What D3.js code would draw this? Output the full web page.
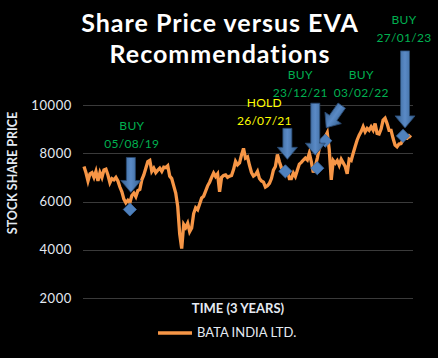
<!DOCTYPE html>
<html>
<head>
<meta charset="utf-8">
<script src="https://cdn.jsdelivr.net/npm/d3@7"></script>
<style>
  body { margin: 0; background: #000; }
  text { font-family: Lato, "Open Sans", sans-serif; }
</style>
</head>
<body>
<div id="chart"></div>
<script>
// Bata India Ltd. share price, sampled along the 3-year time axis
const prices = [
  7450, 7190, 6850, 7150, 7200, 7000, 7250, 6850, 7200, 7000,
  7310, 7340, 7100, 6780, 6950, 6900, 7000, 6850, 6600, 6400,
  6100, 5950, 6050, 5950, 6250, 6350, 6200, 6450, 6500, 6900,
  7100, 7380, 7650, 7700, 7250, 7380, 7200, 7300, 7380, 7250,
  7420, 7400, 7480, 7050, 6950, 6650, 6350, 5800, 4650, 4050,
  5050, 4920, 5100, 4750, 4900, 5500, 5740, 5660, 5900, 6150,
  6220, 6430, 6650, 6800, 7000, 7180, 7040, 7150, 6400, 7000,
  7080, 7100, 7000, 7050, 7080, 7320, 7660, 7520, 7600, 7930,
  8200, 7800, 7850, 7500, 7200, 7050, 7110, 7250, 6950, 6850,
  6800, 6600, 6650, 6750, 6950, 7300, 7450, 7950, 7650, 7400,
  7320, 7380, 7300, 6950, 6950, 7180, 7040, 7300, 7550, 7620,
  7720, 7800, 7720, 8000, 7650, 7200, 7450, 7800, 8200, 8350,
  8600, 8680, 8850, 8150, 6900, 7700, 7590, 7700, 7500, 7750,
  7600, 7450, 7150, 7750, 7700, 8000, 8280, 8550, 8750, 8900,
  9100, 8890, 9030, 8950, 9100, 8960, 9230, 8820, 8800, 9000,
  9370, 9450, 9230, 8950, 8950, 8620, 8340, 8270, 8380, 8400,
  8550, 8620, 8620, 8720, 8650
];
const yTicks = [2000, 4000, 6000, 8000, 10000];

// EVA recommendations
const recIndex = [23, 101, 117, 121, 160];
const recPrice = [5670, 7250, 7380, 8520, 8720];
const recAction = ["BUY", "HOLD", "BUY", "BUY", "BUY"];
const recDate = ["05/08/19", "26/07/21", "23/12/21", "03/02/22", "27/01/23"];

// arrow + label placement relative to each marker
const arrowLayout = [
  { tipDx: 1, tipDy: -17, len: 35, angle: 0, labDx: 2, labDy: -61 },
  { tipDx: 2, tipDy: -12, len: 31, angle: 0, labDx: -21, labDy: -46 },
  { tipDx: -2, tipDy: -13, len: 52, angle: 0, labDx: -17, labDy: -71 },
  { tipDx: 1, tipDy: -13, len: 27, angle: 35, labDx: 36, labDy: -44 },
  { tipDx: 2, tipDy: -8, len: 77, angle: 0, labDx: 1, labDy: -94 }
];

const W = 438, H = 358;
const plot = { left: 83, right: 413, top: 105, bottom: 298 };

const svg = d3.select("#chart")
  .append("svg")
  .attr("width", W)
  .attr("height", H)
  .style("background", "#000");

const x = d3.scaleLinear()
  .domain([0, prices.length - 1])
  .range([plot.left + 1, plot.right - 2]);

const y = d3.scaleLinear()
  .domain([2000, 10000])
  .range([plot.bottom, plot.top]);

// gridlines
svg.append("g")
  .selectAll("line")
  .data(yTicks)
  .enter()
  .append("line")
  .attr("x1", plot.left)
  .attr("x2", plot.right)
  .attr("y1", d => Math.round(y(d)) + 0.5)
  .attr("y2", d => Math.round(y(d)) + 0.5)
  .attr("stroke", "#3a3a3a")
  .attr("stroke-width", 1);

// y axis labels
const yAxis = svg.append("g")
  .attr("transform", `translate(${plot.left}, 0)`)
  .call(d3.axisLeft(y).tickValues(yTicks).tickSize(0).tickPadding(11).tickFormat(d3.format("d")));
yAxis.select(".domain").remove();
yAxis.selectAll("text")
  .attr("fill", "#e4eaf2")
  .style("font-family", "Lato, sans-serif")
  .style("font-size", "13px")
  .style("letter-spacing", "0.6px");

// title
const title = svg.append("text")
  .attr("text-anchor", "middle")
  .attr("fill", "#fff")
  .style("font-size", "25px")
  .style("font-weight", "bold")
  .style("letter-spacing", "1px");
title.append("tspan").attr("x", 220).attr("y", 32).text("Share Price versus EVA");
title.append("tspan").attr("x", 220).attr("y", 63).text("Recommendations");

// axis titles
svg.append("text")
  .attr("transform", "translate(17, 173) rotate(-90)")
  .attr("text-anchor", "middle")
  .attr("fill", "#e4eaf2")
  .style("font-size", "12.5px")
  .style("font-weight", "bold")
  .text("STOCK SHARE PRICE");

svg.append("text")
  .attr("x", 238)
  .attr("y", 313)
  .attr("text-anchor", "middle")
  .attr("fill", "#e4eaf2")
  .style("font-size", "13px")
  .style("font-weight", "bold")
  .text("TIME (3 YEARS)");

// price line
const line = d3.line()
  .x((d, i) => x(i))
  .y(d => y(d));

svg.append("path")
  .datum(prices)
  .attr("fill", "none")
  .attr("stroke", "#f79646")
  .attr("stroke-width", 3.3)
  .attr("stroke-linejoin", "miter")
  .attr("d", line);

// legend
svg.append("line")
  .attr("x1", 158).attr("x2", 192)
  .attr("y1", 333).attr("y2", 333)
  .attr("stroke", "#f79646")
  .attr("stroke-width", 3.3);
svg.append("text")
  .attr("x", 197)
  .attr("y", 337)
  .attr("fill", "#e4eaf2")
  .style("font-size", "13px")
  .text("BATA INDIA LTD.");

// arrow gradient
const defs = svg.append("defs");
const grad = defs.append("linearGradient")
  .attr("id", "arrowGrad")
  .attr("x1", "0%").attr("x2", "100%")
  .attr("y1", "0%").attr("y2", "0%");
grad.append("stop").attr("offset", "0%").attr("stop-color", "#35608f");
grad.append("stop").attr("offset", "50%").attr("stop-color", "#5a8ac6");
grad.append("stop").attr("offset", "100%").attr("stop-color", "#35608f");

function arrowPath(len) {
  const sw = 4.5, hw = 10, hh = 12;
  return `M${-sw},${-len} L${sw},${-len} L${sw},${-hh} L${hw},${-hh} L0,0 L${-hw},${-hh} L${-sw},${-hh} Z`;
}

const recs = recIndex.map((idx, i) => ({
  cx: x(idx),
  cy: y(recPrice[i]),
  action: recAction[i],
  date: recDate[i],
  lay: arrowLayout[i]
}));

// markers
svg.append("g")
  .selectAll("path")
  .data(recs)
  .enter()
  .append("path")
  .attr("d", d3.symbol().type(d3.symbolSquare).size(86))
  .attr("transform", d => `translate(${d.cx}, ${d.cy}) rotate(45)`)
  .attr("fill", "#4f81bd")
  .attr("stroke", "#3f6da6")
  .attr("stroke-width", 0.8);

// arrows
svg.append("g")
  .selectAll("path")
  .data(recs)
  .enter()
  .append("path")
  .attr("d", d => arrowPath(d.lay.len))
  .attr("transform", d => `translate(${d.cx + d.lay.tipDx}, ${d.cy + d.lay.tipDy}) rotate(${d.lay.angle})`)
  .attr("fill", "url(#arrowGrad)")
  .attr("stroke", "#2a4a72")
  .attr("stroke-width", 0.8);

// labels
const labels = svg.append("g")
  .selectAll("text")
  .data(recs)
  .enter()
  .append("text")
  .attr("text-anchor", "middle")
  .attr("fill", d => d.action === "HOLD" ? "#ffff00" : "#00b050")
  .style("font-size", "12px")
  .style("letter-spacing", "0.3px");
labels.append("tspan")
  .attr("x", d => d.cx + d.lay.labDx)
  .attr("y", d => d.cy + d.lay.labDy - 18)
  .text(d => d.action);
labels.append("tspan")
  .attr("x", d => d.cx + d.lay.labDx)
  .attr("y", d => d.cy + d.lay.labDy)
  .text(d => d.date);
</script>
</body>
</html>
